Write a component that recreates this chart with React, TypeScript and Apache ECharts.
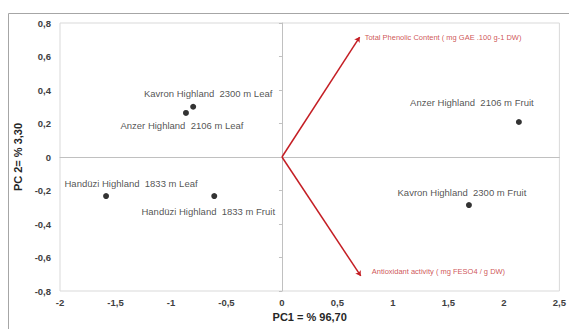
import React, { useEffect, useRef } from "react";
import * as echarts from "echarts";

const sampleNames = [
  "Kavron Highland  2300 m Leaf",
  "Anzer Highland  2106 m Leaf",
  "Anzer Highland  2106 m Fruit",
  "Kavron Highland  2300 m Fruit",
  "Handüzi Highland  1833 m Leaf",
  "Handüzi Highland  1833 m Fruit",
];
const samplePC1 = [-0.8, -0.865, 2.135, 1.685, -1.585, -0.61];
const samplePC2 = [0.3, 0.263, 0.209, -0.287, -0.233, -0.233];

const variableNames = [
  "Total Phenolic Content ( mg GAE .100 g-1 DW)",
  "Antioxidant activity ( mg FESO4 / g DW)",
];
const loadingPC1 = [0.7, 0.71];
const loadingPC2 = [0.716, -0.71];

const xAxisTitle = "PC1 = % 96,70";
const yAxisTitle = "PC 2= % 3,30";

// label placement (style only)
const labelPlacement: { position: string; offset: number[] }[] = [
  { position: "top", offset: [15, 0] },
  { position: "bottom", offset: [-4, 0] },
  { position: "top", offset: [-47, -6] },
  { position: "top", offset: [-7, 0] },
  { position: "top", offset: [25, 0] },
  { position: "bottom", offset: [-6, 2] },
];
const varLabelOffset = [
  [0, 0],
  [6, -4],
];

const fmt = (v: number) => {
  const r = Math.round(v * 100) / 100;
  return String(r).replace(".", ",");
};

export default function App() {
  const ref = useRef<HTMLDivElement>(null);
  useEffect(() => {
    if (!ref.current) return;
    const chart = echarts.init(ref.current, null, { renderer: "svg" });
    const font = "'Liberation Sans', Arial, sans-serif";
    const axisLabelStyle = {
      fontFamily: font,
      fontSize: 9.5,
      fontWeight: "bold" as const,
      color: "#404040",
    };
    chart.setOption({
      animation: false,
      backgroundColor: "#ffffff",
      textStyle: { fontFamily: font },
      graphic: {
        elements: [
          {
            type: "polyline",
            shape: {
              points: [
                [8.5, 329],
                [8.5, 13.5],
                [569, 13.5],
              ],
            },
            style: { stroke: "#a6a6a6", lineWidth: 1, fill: null },
            silent: true,
            z: 100,
          },
        ],
      },
      grid: {
        left: 60,
        top: 23,
        right: 9,
        bottom: 38,
        show: true,
        borderColor: "#d9d9d9",
        borderWidth: 1,
        backgroundColor: "transparent",
      },
      xAxis: [
        {
          type: "value",
          min: -2,
          max: 2.5,
          interval: 0.5,
          position: "bottom",
          axisLine: { show: false, onZero: false },
          axisTick: { show: false },
          splitLine: { show: false },
          axisLabel: { ...axisLabelStyle, margin: 6, formatter: fmt },
          name: xAxisTitle,
          nameLocation: "middle",
          nameGap: 20,
          nameTextStyle: {
            fontFamily: font,
            fontSize: 11,
            fontWeight: "bold",
            color: "#262626",
          },
        },
        {
          type: "value",
          min: -2,
          max: 2.5,
          interval: 0.5,
          position: "top",
          axisLine: { show: true, onZero: true, lineStyle: { color: "#c0c0c0", width: 1 } },
          axisTick: { show: false },
          axisLabel: { show: false },
          splitLine: { show: false },
        },
      ],
      yAxis: [
        {
          type: "value",
          min: -0.8,
          max: 0.8,
          interval: 0.2,
          position: "left",
          axisLine: { show: false, onZero: false },
          axisTick: { show: false },
          splitLine: { show: false },
          axisLabel: { ...axisLabelStyle, margin: 9, formatter: fmt },
          name: yAxisTitle,
          nameLocation: "middle",
          nameGap: 28,
          nameRotate: 90,
          nameTextStyle: {
            fontFamily: font,
            fontSize: 11,
            fontWeight: "bold",
            color: "#262626",
          },
        },
        {
          type: "value",
          min: -0.8,
          max: 0.8,
          interval: 0.2,
          position: "right",
          axisLine: { show: true, onZero: true, lineStyle: { color: "#c0c0c0", width: 1 } },
          axisTick: { show: true, inside: true, length: 3, lineStyle: { color: "#c0c0c0" } },
          axisLabel: { show: false },
          splitLine: { show: false },
        },
      ],
      series: [
        {
          type: "lines",
          coordinateSystem: "cartesian2d",
          xAxisIndex: 0,
          yAxisIndex: 0,
          symbol: ["none", "arrow"],
          symbolSize: 5,
          lineStyle: { color: "#c41e24", width: 1.5, opacity: 1 },
          data: variableNames.map((n, i) => ({
            name: n,
            coords: [
              [0, 0],
              [loadingPC1[i], loadingPC2[i]],
            ],
          })),
          z: 3,
        },
        {
          type: "scatter",
          xAxisIndex: 0,
          yAxisIndex: 0,
          symbolSize: 0,
          silent: true,
          data: variableNames.map((n, i) => ({
            name: n,
            value: [loadingPC1[i], loadingPC2[i]],
            label: {
              show: true,
              position: "right",
              distance: 5,
              offset: varLabelOffset[i],
              formatter: n,
              fontFamily: font,
              fontSize: 7.5,
              color: "#c2282a",
            },
          })),
          z: 4,
        },
        {
          type: "scatter",
          xAxisIndex: 0,
          yAxisIndex: 0,
          symbol: "circle",
          symbolSize: 6,
          itemStyle: { color: "#000000" },
          data: sampleNames.map((n, i) => ({
            name: n,
            value: [samplePC1[i], samplePC2[i]],
            label: {
              show: true,
              position: labelPlacement[i].position,
              offset: labelPlacement[i].offset,
              distance: 5,
              formatter: n,
              fontFamily: font,
              fontSize: 9.5,
              color: "#262626",
            },
          })),
          z: 5,
        },
      ],
    });
    return () => chart.dispose();
  }, []);
  return (
    <div
      ref={ref}
      style={{ position: "fixed", left: 0, top: 0, width: 569, height: 329 }}
    />
  );
}
